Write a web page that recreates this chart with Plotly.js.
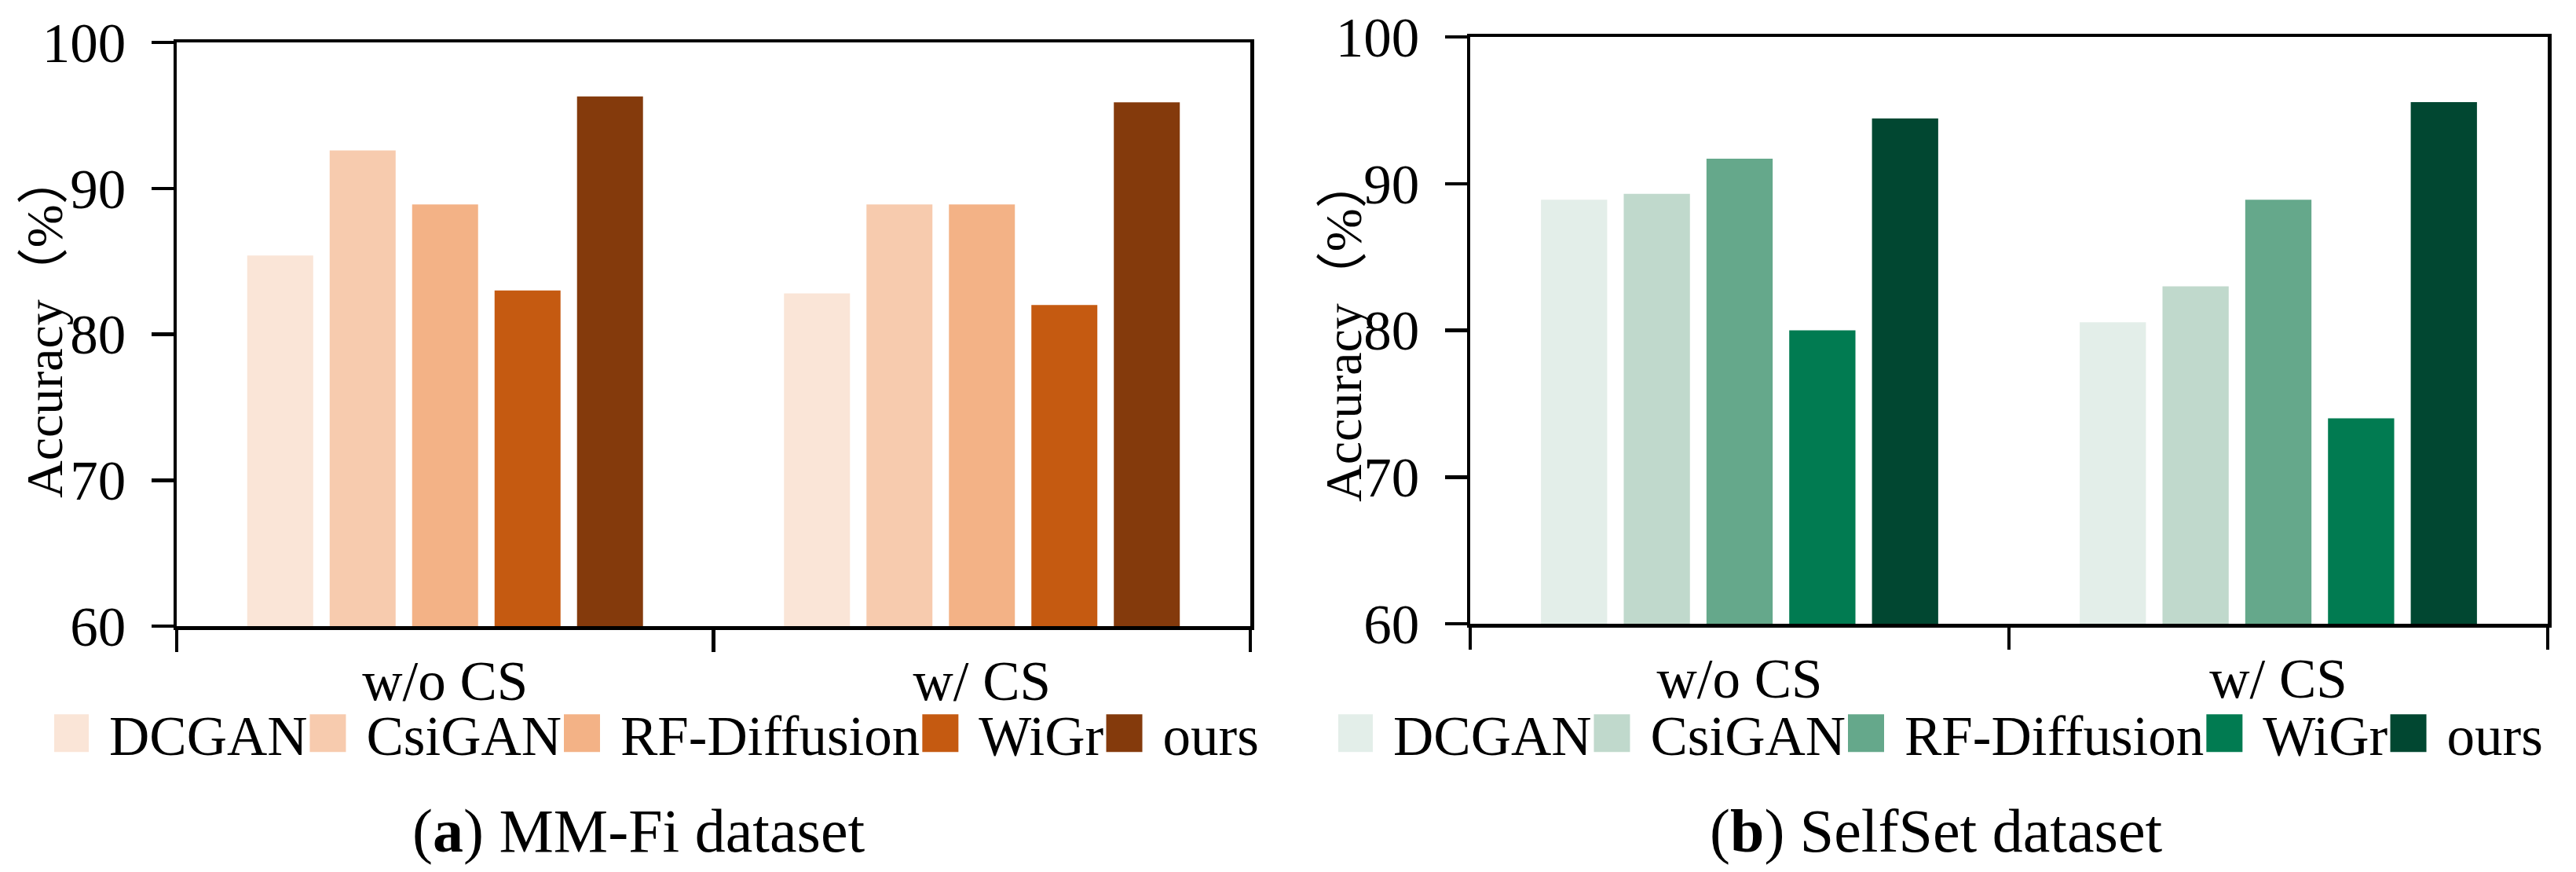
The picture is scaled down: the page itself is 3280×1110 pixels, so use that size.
<!DOCTYPE html>
<html>
<head>
<meta charset="utf-8">
<script src="https://cdn.plot.ly/plotly-3.0.1.min.js"></script>
<style>body{margin:0;background:#fff;}</style>
</head>
<body>
<div id="chartBox" style="width:3280px;height:1110px;"></div>
<script>
// categories and methods
const groups = ['w/o CS', 'w/ CS'];
const methods = ['DCGAN', 'CsiGAN', 'RF-Diffusion', 'WiGr', 'ours'];

// accuracy (%) per method, [w/o CS, w/ CS]
const mmfiAcc = [
    [85.4, 82.8],
    [92.6, 88.9],
    [88.9, 88.9],
    [83.0, 82.0],
    [96.3, 95.9],
];
const selfsetAcc = [
    [88.9, 80.55],
    [89.3, 83.0],
    [91.7, 88.9],
    [80.0, 74.0],
    [94.45, 95.55],
];

const yTicks = [60, 70, 80, 90, 100];

const orangeColors = ['#FAE5D7', '#F7CBAE', '#F3B286', '#C55A11', '#843A0C'];
const greenColors = ['#E3EEE9', '#C0D9CC', '#65A88B', '#017B51', '#014731'];

const serif = 'Liberation Serif, Times New Roman, Noto Sans CJK SC, serif';

function makeTraces(values, colors, xa, ya, legendId) {
    return methods.map((m, i) => ({
        type: 'bar',
        x: groups,
        y: values[i],
        name: m,
        marker: {color: colors[i], line: {width: 0}},
        xaxis: xa,
        yaxis: ya,
        legend: legendId,
    }));
}

function xAxis(domain, anchor) {
    return {
        domain: domain,
        anchor: anchor,
        type: 'category',
        showline: true,
        linecolor: '#000',
        linewidth: 4.5,
        mirror: true,
        ticks: 'outside',
        tickson: 'boundaries',
        ticklen: 28,
        tickwidth: 4.5,
        tickcolor: '#000',
        showgrid: false,
        ticklabelstandoff: 4,
        tickfont: {family: serif, size: 71, color: '#000'},
    };
}

function yAxis(domain, anchor) {
    return {
        domain: domain,
        anchor: anchor,
        range: [60, 100],
        tickvals: yTicks,
        showline: true,
        linecolor: '#000',
        linewidth: 4.5,
        mirror: true,
        ticks: 'outside',
        ticklen: 28,
        tickwidth: 4.5,
        tickcolor: '#000',
        showgrid: false,
        zeroline: false,
        ticklabelstandoff: 18,
        tickfont: {family: serif, size: 71, color: '#000'},
    };
}

function legendBox(x) {
    return {
        orientation: 'h',
        x: x,
        xanchor: 'left',
        y: 0.159,
        yanchor: 'middle',
        itemwidth: 60,
        traceorder: 'normal',
        bgcolor: 'rgba(0,0,0,0)',
        font: {family: serif, size: 71, color: '#000'},
    };
}

const data = [
    ...makeTraces(mmfiAcc, orangeColors, 'x', 'y', 'legend'),
    ...makeTraces(selfsetAcc, greenColors, 'x2', 'y2', 'legend2'),
];

const layout = {
    width: 3280,
    height: 1110,
    margin: {l: 0, r: 0, t: 0, b: 0},
    paper_bgcolor: '#fff',
    plot_bgcolor: '#fff',
    barmode: 'group',
    bargap: 0.232,
    bargroupgap: 0.2,
    xaxis: xAxis([225 / 3280, 1592 / 3280], 'y'),
    yaxis: yAxis([313 / 1110, 1056 / 1110], 'x'),
    xaxis2: xAxis([1872 / 3280, 3244 / 3280], 'y2'),
    yaxis2: yAxis([316 / 1110, 1063 / 1110], 'x2'),
    legend: legendBox(69 / 3280),
    legend2: legendBox(1704 / 3280),
    annotations: [
        {text: 'Accuracy（%）', textangle: -90, xref: 'paper', yref: 'paper',
         x: 57 / 3280, y: 696 / 1110, xanchor: 'center', yanchor: 'middle', showarrow: false,
         font: {family: serif, size: 66, color: '#000'}},
        {text: 'Accuracy（%）', textangle: -90, xref: 'paper', yref: 'paper',
         x: 1710 / 3280, y: 691 / 1110, xanchor: 'center', yanchor: 'middle', showarrow: false,
         font: {family: serif, size: 66, color: '#000'}},
        {text: '(<b>a</b>) MM-Fi dataset', xref: 'paper', yref: 'paper',
         x: 813 / 3280, y: 53 / 1110, xanchor: 'center', yanchor: 'middle', showarrow: false,
         font: {family: serif, size: 78, color: '#000'}},
        {text: '(<b>b</b>) SelfSet dataset', xref: 'paper', yref: 'paper',
         x: 2465 / 3280, y: 53 / 1110, xanchor: 'center', yanchor: 'middle', showarrow: false,
         font: {family: serif, size: 78, color: '#000'}},
    ],
};

// the legend swatches in the original are big squares, not plotly's small ones
function bigSwatches() {
    document.querySelectorAll('#chartBox g.legendpoints path').forEach(p => {
        p.setAttribute('d', 'M23,24H-23V-24H23Z');
        p.setAttribute('transform', 'translate(21,0)');
    });
}

Plotly.newPlot('chartBox', data, layout, {staticPlot: true}).then(gd => {
    bigSwatches();
    gd.on('plotly_afterplot', bigSwatches);
});
let runs = 0;
const timer = setInterval(() => {
    bigSwatches();
    if (++runs > 30) clearInterval(timer);
}, 100);
</script>
</body>
</html>
